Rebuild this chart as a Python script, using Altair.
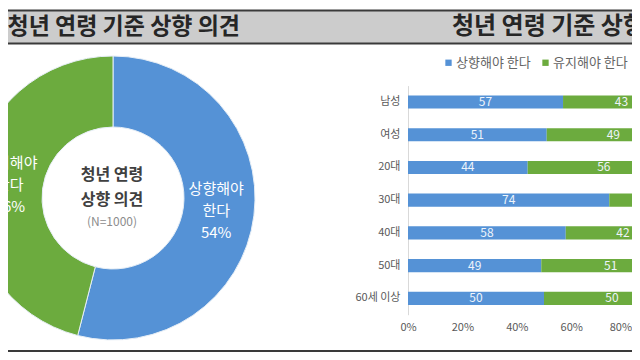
import altair as alt
import pandas as pd

FONT = "Noto Sans CJK KR"

title_text = "청년 연령 기준 상향 의견"
series = ["상향해야 한다", "유지해야 한다"]
colors = ["#5592d6", "#6cab3e"]

donut_values = [54, 46]
donut_labels = ["상향해야\n한다\n54%", "유지해야\n한다\n46%"]
center_lines = ["청년 연령", "상향 의견"]
center_note = "(N=1000)"

categories = ["남성", "여성", "20대", "30대", "40대", "50대", "60세 이상"]
raise_vals = [57, 51, 44, 74, 58, 49, 50]
keep_vals = [43, 49, 56, 26, 42, 51, 50]
x_ticks = [0, 20, 40, 60, 80]

W, H = 624, 344

donut_df = pd.DataFrame({"series": series, "value": donut_values,
                         "label": donut_labels, "order": [0, 1]})
rows = []
for c, a, b in zip(categories, raise_vals, keep_vals):
    rows.append({"category": c, "series": series[0], "value": a, "order": 0})
    rows.append({"category": c, "series": series[1], "value": b, "order": 1})
bar_df = pd.DataFrame(rows)

one = alt.Data(values=[{}])

legend = alt.Legend(orient="none", legendX=434, legendY=48, direction="horizontal",
                    title=None, symbolType="square", symbolSize=40, symbolStrokeWidth=0,
                    labelFontSize=13, labelColor="#666666", labelFont=FONT,
                    labelOffset=1, columnPadding=8)
color_enc = alt.Color("series:N", scale=alt.Scale(domain=series, range=colors), legend=legend)

# title band
band = alt.Chart(one).mark_rect(color="#cccccc").encode(
    x=alt.value(0), x2=alt.value(W), y=alt.value(3), y2=alt.value(35))
line_top = alt.Chart(one).mark_rule(color="#3a3a3a", strokeWidth=2).encode(
    x=alt.value(0), x2=alt.value(W), y=alt.value(2.5))
line_bot = alt.Chart(one).mark_rule(color="#3a3a3a", strokeWidth=2).encode(
    x=alt.value(0), x2=alt.value(W), y=alt.value(35.5))
line_page = alt.Chart(one).mark_rule(color="#3a3a3a", strokeWidth=2).encode(
    x=alt.value(0), x2=alt.value(W), y=alt.value(343))
title_left = alt.Chart(one).mark_text(text=title_text, font=FONT, fontSize=23, fontWeight="bold",
                                      align="right", baseline="middle", color="#262626").encode(
    x=alt.value(232), y=alt.value(19))
title_right = alt.Chart(one).mark_text(text=title_text, font=FONT, fontSize=24, fontWeight="bold",
                                       align="left", baseline="middle", color="#262626").encode(
    x=alt.value(444), y=alt.value(19))

# donut
arc = alt.Chart(donut_df).mark_arc(outerRadius=142, innerRadius=71, stroke="#e6eef6",
                                   strokeWidth=1).encode(
    theta=alt.Theta("value:Q", stack=True), color=color_enc, order=alt.Order("order:Q"),
    x=alt.value(105), y=alt.value(190))
arc_text = alt.Chart(donut_df).mark_text(radius=104, lineBreak="\n", lineHeight=22, font=FONT,
                                         fontSize=15, color="white", baseline="middle",
                                         dy=-22).encode(
    theta=alt.Theta("value:Q", stack=True), order=alt.Order("order:Q"), text="label:N",
    x=alt.value(105), y=alt.value(190))
c1 = alt.Chart(one).mark_text(text=center_lines[0], font=FONT, fontSize=16, fontWeight="bold",
                              color="#404040", baseline="middle").encode(x=alt.value(104), y=alt.value(167))
c2 = alt.Chart(one).mark_text(text=center_lines[1], font=FONT, fontSize=16, fontWeight="bold",
                              color="#404040", baseline="middle").encode(x=alt.value(104), y=alt.value(192))
c3 = alt.Chart(one).mark_text(text=center_note, font=FONT, fontSize=12,
                              color="#8c8c8c", baseline="middle").encode(x=alt.value(104), y=alt.value(214))

# bars
x_scale = alt.Scale(domain=[0, 100], range=[400, 672], nice=False, zero=True)
x_axis = alt.Axis(values=x_ticks, labelExpr="datum.value + '%'", domain=False, ticks=False,
                  grid=False, labelPadding=2, offset=-33, labelFontSize=11, labelFont=FONT,
                  labelColor="#595959", title=None, labelFlush=False,
                  labelAlign={"condition": {"test": "datum.value == 80", "value": "right"},
                              "value": "center"},
                  labelOffset={"condition": {"test": "datum.value == 80", "value": 6},
                               "value": 0})
y_scale = alt.Scale(range=[77.6, 306.7], paddingInner=0.6, paddingOuter=0.3)
y_axis = alt.Axis(orient="left", offset=-400, ticks=False, domainColor="#d9d9d9", domainWidth=1,
                  labelPadding=8, labelFontSize=11, labelFont=FONT, labelColor="#595959",
                  grid=False, title=None)

bars = alt.Chart(bar_df).mark_bar().encode(
    x=alt.X("value:Q", stack="zero", scale=x_scale, axis=x_axis),
    y=alt.Y("category:N", sort=categories, scale=y_scale, axis=y_axis),
    color=color_enc, order=alt.Order("order:Q"))
bar_text = alt.Chart(bar_df).transform_stack(
    stack="value", as_=["x0", "x1"], groupby=["category"], sort=[alt.SortField("order")]
).transform_calculate(mid="(datum.x0 + datum.x1) / 2").mark_text(
    font=FONT, fontSize=12, color="#eef4fb", baseline="middle").encode(
    x=alt.X("mid:Q", scale=x_scale, axis=x_axis),
    y=alt.Y("category:N", sort=categories, scale=y_scale, axis=y_axis),
    text="value:Q")

chart = alt.layer(band, line_top, line_bot, line_page, title_left, title_right,
                  arc, arc_text, c1, c2, c3, bars, bar_text).properties(
    width=W, height=H, autosize=alt.AutoSizeParams(type="none"), padding=0,
    background="white").configure_view(stroke=None)

chart.save("out.html", embed_options={"renderer": "svg", "actions": False})
